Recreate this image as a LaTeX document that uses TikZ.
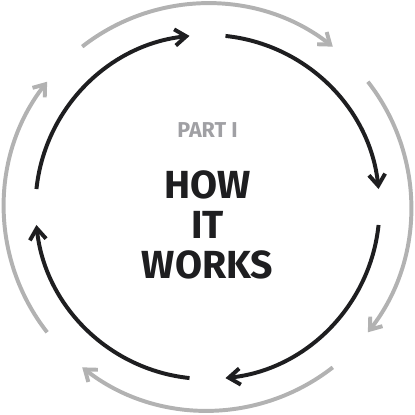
\documentclass[tikz,border=0pt]{standalone}
\usepackage{fontspec}
\setsansfont{Fira Sans}
\usetikzlibrary{arrows.meta}
\definecolor{ink}{RGB}{30,30,32}
\definecolor{ash}{RGB}{178,178,178}
\definecolor{slate}{RGB}{160,160,164}

\begin{document}
\begin{tikzpicture}[every node/.style={font=\sffamily\bfseries, inner sep=0pt, anchor=base},
    inr/.style={draw=ink, line width=4.5pt, -{Straight Barb[length=4.5mm, width=6.5mm]}},
    outr/.style={draw=ash, line width=4.5pt, -{Straight Barb[length=4.2mm, width=6.2mm]}},
    ttl/.style={text=ink, font=\sffamily\bfseries\fontsize{44.6}{45}\selectfont},
    part/.style={text=slate, font=\sffamily\bfseries\fontsize{24.5}{25}\selectfont}]
  \useasboundingbox (-8.3,-8.28) rectangle (8.3,8.28);
  % inner ring, clockwise
  \foreach \c in {135,45,-45,-135}
    \draw[inr] ({\c+39}:6.88) arc[start angle={\c+39}, end angle={\c-39}, radius=6.88];
  % outer ring
  \foreach \c in {90,0,-90,180}
    \draw[outr] ({\c+38}:8.14) arc[start angle={\c+38}, end angle={\c-38}, radius=8.14];
  \node[part] (prt) at (0,2.8) {PART I};
  \node[ttl] (how) at (0,0.36) {HOW};
  \node[ttl] (it) at (0,-1.24) {IT};
  \node[ttl] (works) at (0,-2.84) {WORKS};
\end{tikzpicture}
\end{document}
